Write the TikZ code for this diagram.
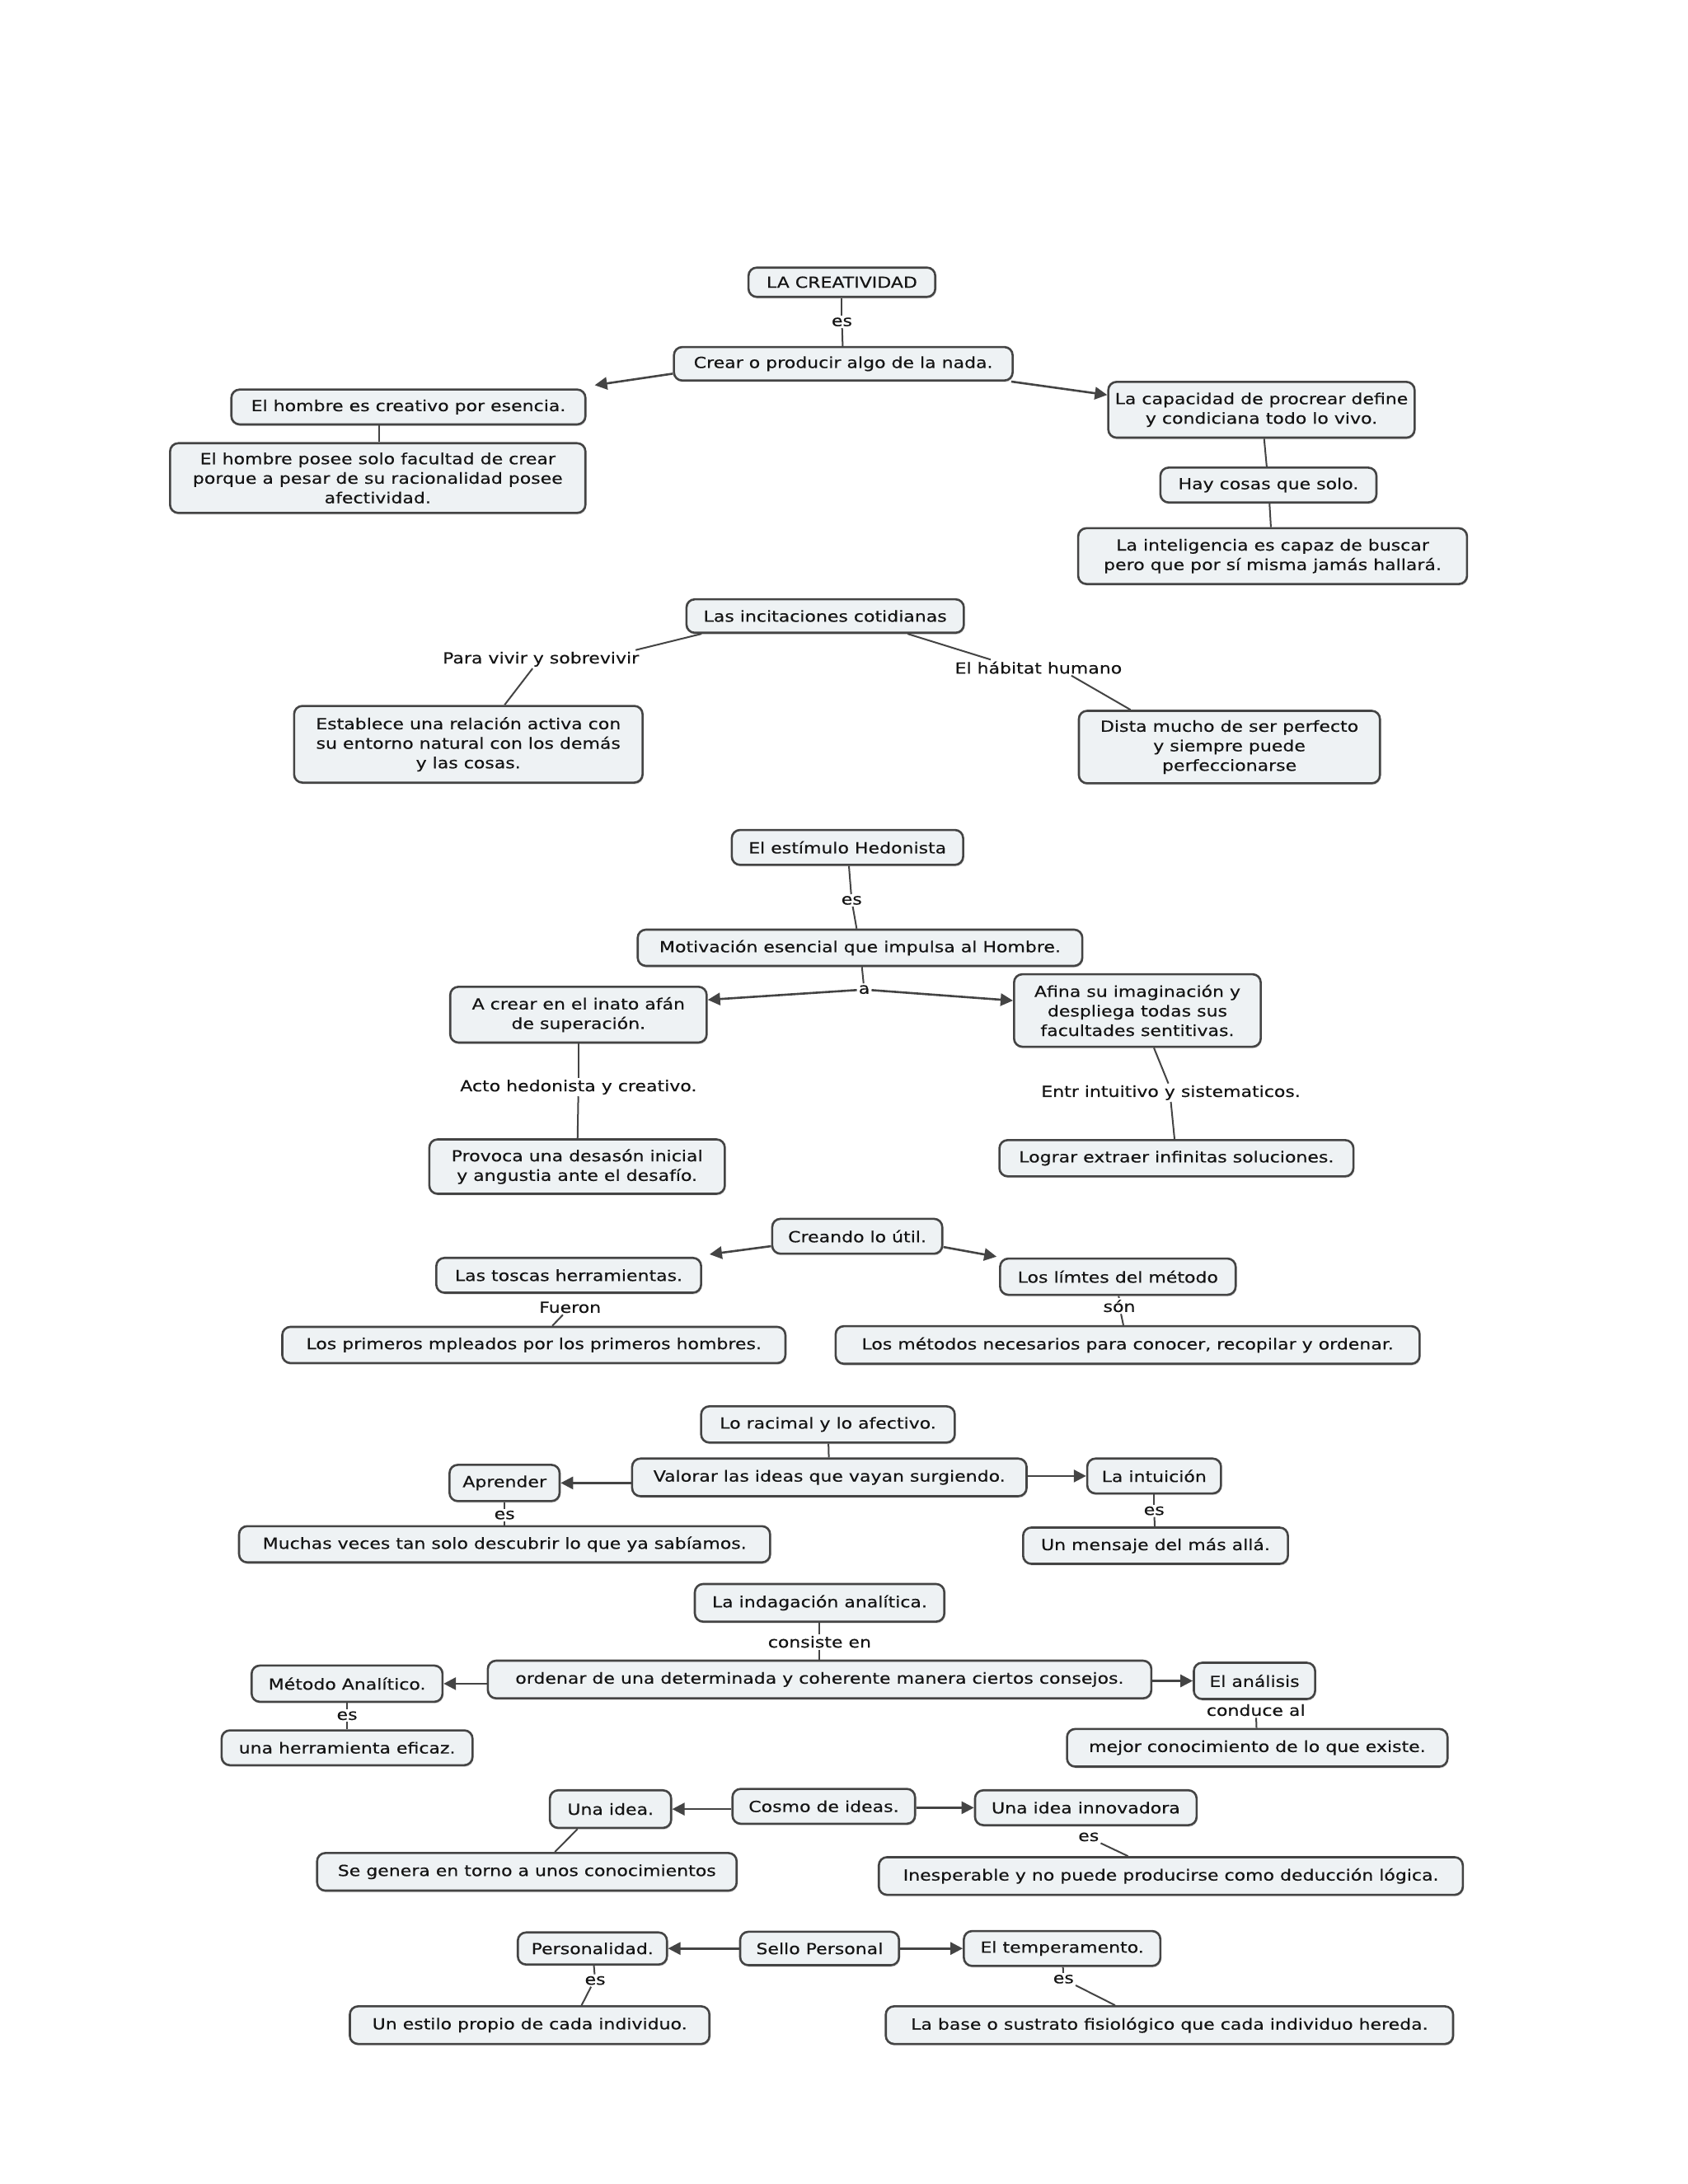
\documentclass[tikz,border=0pt]{standalone}
\usepackage{fontspec}
\setmainfont{DejaVu Sans}[FakeStretch=1.19,FakeBold=0.4]
\usetikzlibrary{arrows.meta,shadows}
\definecolor{boxfill}{HTML}{EEF2F4}
\definecolor{boxline}{HTML}{444444}
\definecolor{txt}{HTML}{141414}
\begin{document}
\begin{tikzpicture}[x=1.69116pt,y=-1.69116pt,
 every node/.style={font=\fontsize{18.5}{23.7}\selectfont, text=txt},
 box/.style={draw=boxline, line width=2.6pt, fill=boxfill, rounded corners=10pt, align=center, inner xsep=8pt, inner ysep=4pt, drop shadow={shadow xshift=1pt, shadow yshift=-2pt, fill=black!30}},
 bw/.style={minimum width=#1*1.69116pt},
 bh/.style={minimum height=#1*1.69116pt},
 lbl/.style={inner sep=2pt},
 conn/.style={draw=boxline, line width=2pt},
 arr/.style={conn, line width=2.6pt, -{Triangle[length=15pt,width=15pt]}}]
\fill[white] (0,0) rectangle (1211,1567);
\useasboundingbox (0,0) rectangle (1211,1567);

% ---------- Section 1
\node[box,bw=134,bh=21] (la) at (604,202.5) {LA CREATIVIDAD};
\node[lbl] (es1) at (604,231) {es};
\node[box,bw=243,bh=24] (crear) at (605,261) {Crear o producir algo de la nada.};
\node[box,bw=254,bh=25] (ehombre) at (293,292) {El hombre es creativo por esencia.};
\node[box,bw=298,bh=50] (eposee) at (271,343) {El hombre posee solo facultad de crear\\porque a pesar de su racionalidad posee\\afectividad.};
\node[box,bw=216,bh=40] (cap) at (905,294) {La capacidad de procrear define\\y condiciana todo lo vivo.};
\node[box,bw=155,bh=25] (hay) at (910,348) {Hay cosas que solo.};
\node[box,bw=279,bh=40] (intel) at (913,399) {La inteligencia es capaz de buscar\\pero que por sí misma jamás hallará.};

\draw[conn] (la) -- (es1);
\draw[conn] (es1) -- (crear);
\draw[arr] ([yshift=-12pt]crear.west) -- ([xshift=10pt,yshift=4pt]ehombre.north east);
\draw[arr] ([xshift=-3pt]crear.south east) -- ([yshift=18pt]cap.west);
\draw[conn] ([xshift=-36pt]ehombre.south) -- ([xshift=-36pt]ehombre.south |- eposee.north);
\draw[conn] (cap) -- (hay);
\draw[conn] (hay) -- (intel);

% ---------- Section 2
\node[box,bw=199,bh=24] (inc) at (592,442) {Las incitaciones cotidianas};
\node[lbl] (para) at (388,473) {Para vivir y sobrevivir};
\node[lbl] (hab) at (745,479) {El hábitat humano};
\node[box,bw=250,bh=55] (est) at (336,534) {Establece una relación activa con\\su entorno natural con los demás\\y las cosas.};
\node[box,bw=216,bh=52] (dista) at (882,536) {Dista mucho de ser perfecto\\y siempre puede\\perfeccionarse};

\draw[conn] ([xshift=-150pt]inc.south) -- ([xshift=115pt]para.north);
\draw[conn] ([xshift=-10pt]para.south) -- ([xshift=44pt]est.north);
\draw[conn] ([xshift=100pt]inc.south) -- ([xshift=-58pt]hab.north);
\draw[conn] ([xshift=40pt]hab.south) -- ([xshift=-120pt]dista.north);

% ---------- Section 3
\node[box,bw=166,bh=25] (hed) at (608,608) {El estímulo Hedonista};
\node[lbl] (es3) at (611,646) {es};
\node[box,bw=319,bh=26] (mot) at (617,680) {Motivación esencial que impulsa al Hombre.};
\node[lbl] (a) at (620,710) {a};
\node[box,bw=184,bh=40] (acrear) at (415,728) {A crear en el inato afán\\de superación.};
\node[box,bw=177,bh=52] (afina) at (816,725) {Afina su imaginación y\\despliega todas sus\\facultades sentitivas.};
\node[lbl] (acto) at (415,780) {Acto hedonista y creativo.};
\node[lbl] (entr) at (840,784) {Entr intuitivo y sistematicos.};
\node[box,bw=212,bh=39] (provoca) at (414,837) {Provoca una desasón inicial\\y angustia ante el desafío.};
\node[box,bw=254,bh=26] (lograr) at (844,831) {Lograr extraer infinitas soluciones.};

\draw[conn] (hed) -- (es3);
\draw[conn] (es3) -- (mot);
\draw[conn] (mot) -- (a);
\draw[arr] (a) -- ([yshift=18pt]acrear.east);
\draw[arr] (a) -- ([yshift=12pt]afina.west);
\draw[conn] (acrear) -- (acto);
\draw[conn] (acto) -- (provoca);
\draw[conn] ([xshift=20pt]afina.south) -- ([xshift=-3pt]entr.north);
\draw[conn] (entr.south) -- (lograr);

% ---------- Section 4
\node[box,bw=122,bh=25] (crea) at (615,887) {Creando lo útil.};
\node[box,bw=190,bh=25] (toscas) at (408,915) {Las toscas herramientas.};
\node[box,bw=169,bh=26] (limt) at (802,916) {Los límtes del método};
\node[lbl] (fueron) at (409,938) {Fueron};
\node[lbl] (son) at (803,937) {són};
\node[box,bw=361,bh=26] (prim) at (383,965) {Los primeros mpleados por los primeros hombres.};
\node[box,bw=419,bh=27] (metodos) at (809,965) {Los métodos necesarios para conocer, recopilar y ordenar.};

\draw[arr] ([yshift=-12pt]crea.west) -- ([xshift=9pt,yshift=3pt]toscas.north east);
\draw[arr] ([yshift=-13pt]crea.east) -- ([xshift=-3pt,yshift=1pt]limt.north west);
\draw[conn] (fueron) -- (prim);
\draw[conn] (limt) -- (son);
\draw[conn] (son) -- (metodos);

% ---------- Section 5
\node[box,bw=182,bh=26] (rac) at (594,1022) {Lo racimal y lo afectivo.};
\node[box,bw=283,bh=27] (val) at (595,1060) {Valorar las ideas que vayan surgiendo.};
\node[box,bw=79,bh=26] (apr) at (362,1064) {Aprender};
\node[box,bw=96,bh=25] (intu) at (828,1059) {La intuición};
\node[lbl] (es5a) at (362,1087) {es};
\node[lbl] (es5b) at (828,1084) {es};
\node[box,bw=381,bh=26] (muchas) at (362,1108) {Muchas veces tan solo descubrir lo que ya sabíamos.};
\node[box,bw=190,bh=26] (mensaje) at (829,1109) {Un mensaje del más allá.};

\draw[conn] (rac) -- (val);
\draw[arr] (val.west |- apr.east) -- (apr.east);
\draw[arr] (val.east |- intu.west) -- (intu.west);
\draw[conn] (apr) -- (es5a);
\draw[conn] (es5a) -- (muchas);
\draw[conn] (intu) -- (es5b);
\draw[conn] (es5b) -- (mensaje);

% ---------- Section 6
\node[box,bw=179,bh=27] (ind) at (588,1150) {La indagación analítica.};
\node[lbl] (cons) at (588,1178) {consiste en};
\node[box,bw=476,bh=27] (orden) at (588,1205) {ordenar de una determinada y coherente manera ciertos consejos.};
\node[box,bw=137,bh=26] (met) at (249,1208) {Método Analítico.};
\node[box,bw=87,bh=26] (anal) at (900,1206) {El análisis};
\node[lbl] (es6) at (249,1231) {es};
\node[lbl] (cond) at (901,1227) {conduce al};
\node[box,bw=180,bh=25] (herr) at (249,1254) {una herramienta eficaz.};
\node[box,bw=273,bh=27] (mejor) at (902,1254) {mejor conocimiento de lo que existe.};

\draw[conn] (ind) -- (cons);
\draw[conn] (cons) -- (orden);
\draw[arr] (orden.west |- met.east) -- (met.east);
\draw[arr] (orden.east |- anal.west) -- (anal.west);
\draw[conn] (met) -- (es6);
\draw[conn] (es6) -- (herr);
\draw[conn] (cond) -- (mejor);

% ---------- Section 7
\node[box,bw=131,bh=25] (cosmo) at (591,1296) {Cosmo de ideas.};
\node[box,bw=87,bh=27] (una) at (438,1298) {Una idea.};
\node[box,bw=159,bh=25] (innov) at (779,1297) {Una idea innovadora};
\node[lbl] (es7) at (781,1318) {es};
\node[box,bw=301,bh=27] (seg) at (378,1343) {Se genera en torno a unos conocimientos};
\node[box,bw=419,bh=27] (inesp) at (840,1346) {Inesperable y no puede producirse como deducción lógica.};

\draw[arr] (cosmo.west |- una.east) -- (una.east);
\draw[arr] (cosmo.east |- innov.west) -- (innov.west);
\draw[conn] ([xshift=-40pt]una.south) -- ([xshift=34pt]seg.north);
\draw[conn] (es7.south east) -- ([xshift=-52pt]inesp.north);

% ---------- Section 8
\node[box,bw=114,bh=24] (sello) at (588,1398) {Sello Personal};
\node[box,bw=107,bh=23] (pers) at (425,1398) {Personalidad.};
\node[box,bw=141,bh=25] (temp) at (762,1398) {El temperamento.};
\node[lbl] (es8) at (427,1421) {es};
\node[lbl] (es9) at (763,1420) {es};
\node[box,bw=258,bh=27] (estilo) at (380,1453) {Un estilo propio de cada individuo.};
\node[box,bw=407,bh=27] (base) at (839,1453) {La base o sustrato fisiológico que cada individuo hereda.};

\draw[arr] (sello.west |- pers.east) -- (pers.east);
\draw[arr] (sello.east |- temp.west) -- (temp.west);
\draw[conn] (pers) -- (es8);
\draw[conn] ([xshift=-5pt]es8.south) -- ([xshift=63pt]estilo.north);
\draw[conn] (temp) -- (es9);
\draw[conn] (es9.south east) -- ([xshift=-66pt]base.north);
\end{tikzpicture}
\end{document}
